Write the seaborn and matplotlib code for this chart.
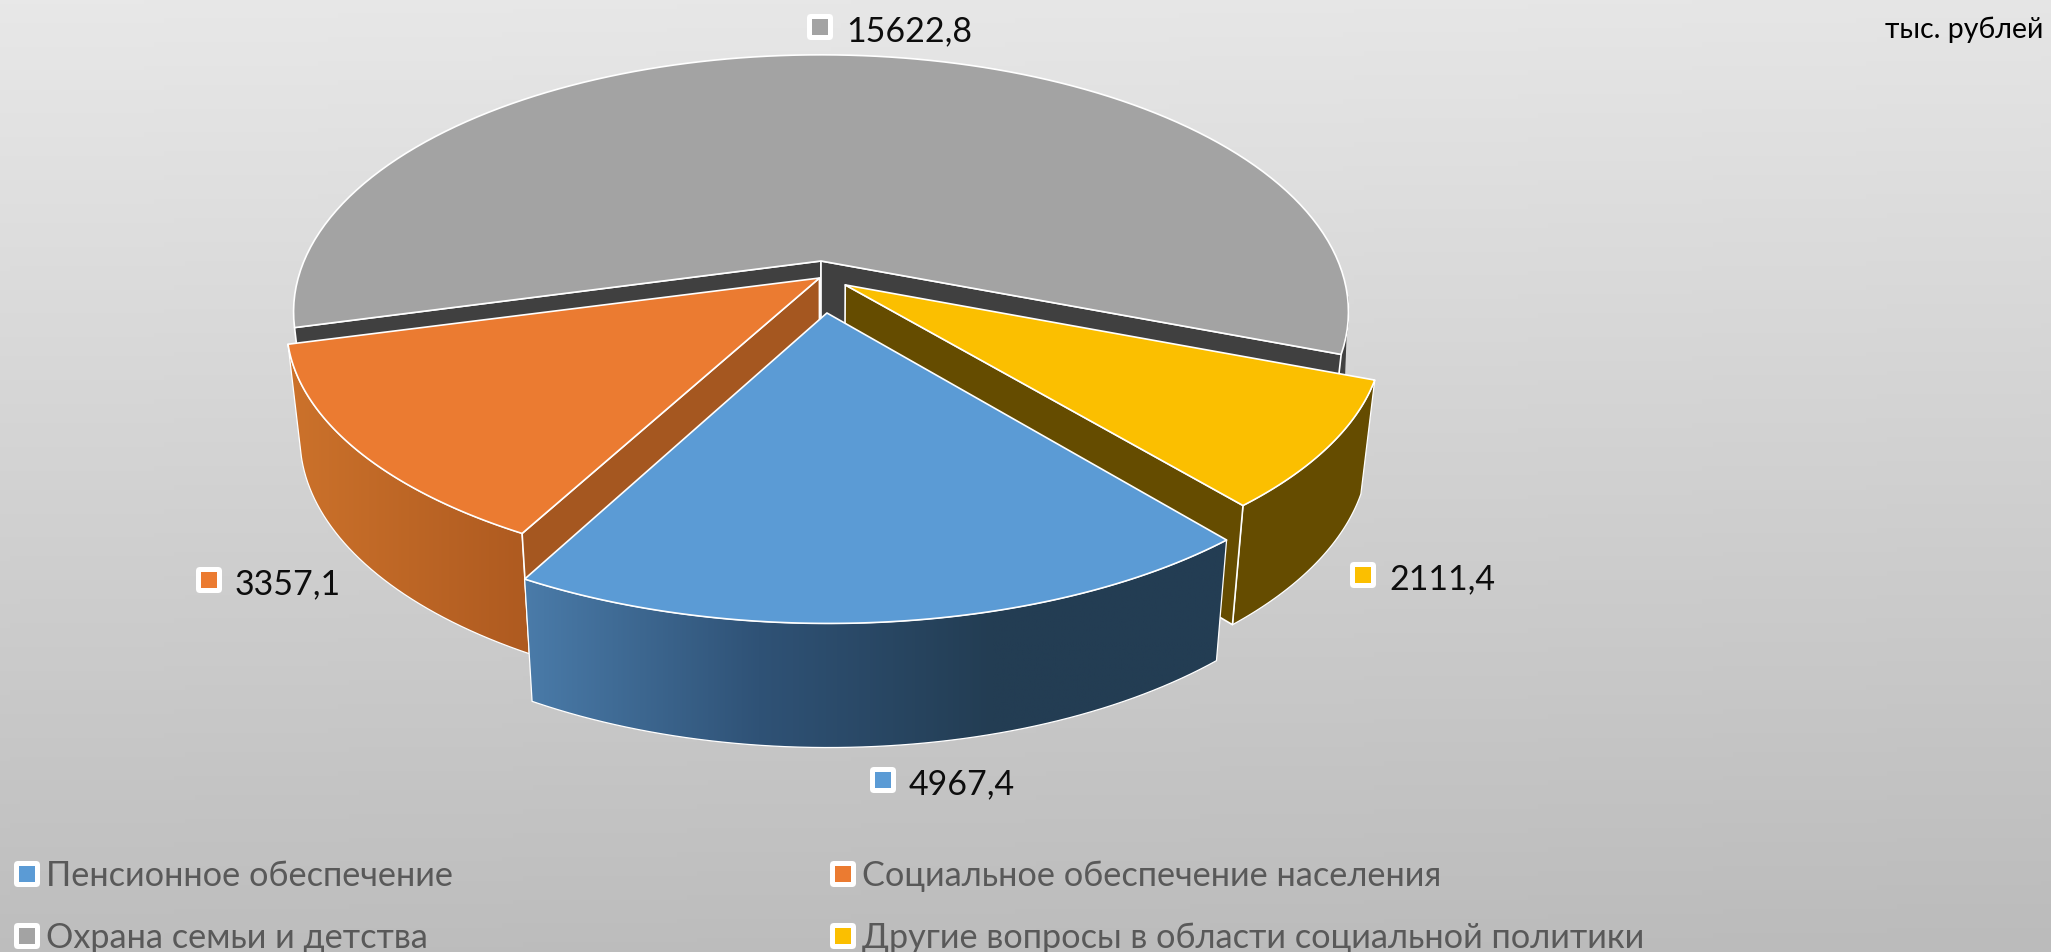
import numpy as np
import pandas as pd
import matplotlib
matplotlib.use("Agg")
import matplotlib.pyplot as plt
from matplotlib.patches import Polygon, FancyBboxPatch
import seaborn as sns

categories = ["Пенсионное обеспечение", "Социальное обеспечение населения",
              "Охрана семьи и детства", "Другие вопросы в области социальной политики"]
values = [4967.4, 3357.1, 15622.8, 2111.4]
value_labels = ["4967,4", "3357,1", "15622,8", "2111,4"]
unit_label = "тыс. рублей"

palette = ["#5B9BD5", "#EB7B31", "#A3A3A3", "#FBBF00"]

sns.set_theme(style="white")
plt.rcParams["font.family"] = ["Lato", "Noto Sans", "DejaVu Sans"]

data = pd.DataFrame({"category": categories, "value": values, "label": value_labels})
data["sweep"] = data["value"] / data["value"].sum() * 360

# pie geometry, pixels
W, H = 2051, 953
cx, cy = 821, 262
Rx, Ry = 517, 247
k = 0.198
front_start = -21.3   # where the yellow slice starts, going clockwise
gray_end = -20.6

# exploded slices: world offset and x/y radius
offsets = {0: (0.011, -0.202), 1: (-0.003, -0.068), 2: (0.0, 0.0), 3: (0.046, -0.095)}
rx = {0: 0.99, 1: 0.998, 2: 1.0, 3: 1.0}
ry = {0: 0.935, 1: 0.95, 2: 1.0, 3: 0.95}
# small corrections (degrees) at slice ends, the perspective of the original is not exact
fix_start = {0: 0.0, 1: 0.9, 2: -0.4, 3: 0.0}
fix_stop = {0: 0.9, 1: 0.6, 2: 0.0, 3: 0.0}


def project(x, y):
    s = 1 / (1 + k * y)
    return cx + Rx * x * s, cy - Ry * y * s, s


def lower(px, py, s, q=0.975):
    return cx + (px - cx) * q, py + 57 + 52 * s


def slice_angles():
    # clockwise in the picture: yellow, blue, orange, then gray on its own
    out = {}
    start = front_start
    for i in [3, 0, 1]:
        stop = start - data["sweep"][i]
        out[i] = (start + fix_start[i], stop + fix_stop[i])
        start = stop
    out[2] = (gray_end + data["sweep"][2] - 360 + fix_start[2], gray_end - 360 + fix_stop[2])
    return out


def arc(i, a0, a1, n=120):
    t = np.radians(np.linspace(a0, a1, n))
    ox, oy = offsets[i]
    return project(ox + rx[i] * np.cos(t), oy + ry[i] * np.sin(t))


def poly(ax, xs, ys, color, z, edge="white", lw=1.2):
    p = Polygon(np.column_stack([xs, ys]), closed=True, facecolor=color, edgecolor=edge,
                linewidth=lw, zorder=z, joinstyle="round")
    ax.add_patch(p)
    return p


def grad_wall(ax, xs, ys, colors, z):
    p = Polygon(np.column_stack([xs, ys]), closed=True, facecolor="none", edgecolor="none", zorder=z)
    ax.add_patch(p)
    cmap = sns.blend_palette(colors, n_colors=256, as_cmap=True)
    im = ax.imshow(np.linspace(0, 1, 256).reshape(1, -1), cmap=cmap, aspect="auto",
                   extent=[xs.min(), xs.max(), ys.max(), ys.min()], zorder=z)
    im.set_clip_path(p)
    ax.plot(np.r_[xs, xs[0]], np.r_[ys, ys[0]], color="white", lw=0.9, zorder=z + 0.1)


def draw_slice(ax, i, z, wall, side_color, wall_grad=None, outer=None, rim_edge="white", rim_q=0.975):
    a0, a1 = angles[i]
    ox, oy = offsets[i]
    ax_x, ax_y, ax_s = project(ox, oy)
    bx_x, bx_y = lower(ax_x, ax_y, ax_s)

    # outer rim
    if outer is not None:
        xs, ys, ss = arc(i, outer[0], outer[1])
        lx, ly = lower(xs, ys, ss, rim_q)
        px = np.r_[xs, lx[::-1]]
        py = np.r_[ys, ly[::-1]]
        if wall_grad is not None:
            grad_wall(ax, px, py, wall_grad, z)
        else:
            poly(ax, px, py, side_color, z, edge=rim_edge, lw=0.9)

    # radial walls
    for a in wall:
        ex, ey, es = arc(i, a, a, 2)
        lx, ly = lower(ex[0], ey[0], es[0])
        poly(ax, np.array([ax_x, ex[0], lx, bx_x]), np.array([ax_y, ey[0], ly, bx_y]), side_color, z + 0.2)

    # top
    xs, ys, ss = arc(i, a0, a1)
    poly(ax, np.r_[ax_x, xs], np.r_[ax_y, ys], palette[i], z + 0.5)


def marker(ax, x, y, color):
    ax.add_patch(FancyBboxPatch((x - 10, y - 10), 20, 20, boxstyle="round,pad=3,rounding_size=4",
                                facecolor="white", edgecolor="none", zorder=20))
    ax.add_patch(FancyBboxPatch((x - 8, y - 8), 16, 16, boxstyle="square,pad=0",
                                facecolor=color, edgecolor="none", zorder=21))


angles = slice_angles()

fig = plt.figure(figsize=(W / 100, H / 100), dpi=100)
ax = fig.add_axes([0, 0, 1, 1])

# background gradient
yy, xx = np.mgrid[0:1:200j, 0:1:200j]
bg = yy + 0.06 * (xx - 0.5)
ax.imshow(bg, cmap=sns.blend_palette(["#E8E8E8", "#BBBBBB"], as_cmap=True), aspect="auto",
          extent=[0, W, H, 0], zorder=0)

# back to front
draw_slice(ax, 2, 2, [angles[2][0], angles[2][1]], "#404040", outer=(gray_end, -8), rim_edge="#404040", rim_q=0.992)
draw_slice(ax, 3, 4, [angles[3][1]], "#654C00", outer=(angles[3][0], angles[3][1]))
draw_slice(ax, 1, 6, [angles[1][0]], "#A55720", wall_grad=["#CC722B", "#AE5A20"],
           outer=(angles[1][1], angles[1][0]))
draw_slice(ax, 0, 8, [], "#2F5276", wall_grad=["#4A7BA9", "#2F5276", "#233D53", "#233D53"],
           outer=(angles[0][1], angles[0][0]))

# data labels
label_pos = [(883, 781), (209, 581), (820, 28), (1363, 576)]
for i, (mx, my) in enumerate(label_pos):
    marker(ax, mx, my, palette[i])
    ax.text(mx + 26, my + 3, data["label"][i], fontsize=24.5, color="#0D0D0D", va="center", ha="left", zorder=22)

ax.text(2043, 30, unit_label, fontsize=20.5, color="#000000", va="center", ha="right", zorder=22)

# legend
leg_pos = [(27, 875), (843, 875), (27, 937), (843, 937)]
for i, (mx, my) in enumerate(leg_pos):
    marker(ax, mx, my, palette[i])
    ax.text(mx + 19, my + 1, data["category"][i], fontsize=24.7, color="#595959", va="center", ha="left", zorder=22)

ax.set_xlim(0, W)
ax.set_ylim(H, 0)
ax.axis("off")

fig.savefig("out.png", dpi=100)
